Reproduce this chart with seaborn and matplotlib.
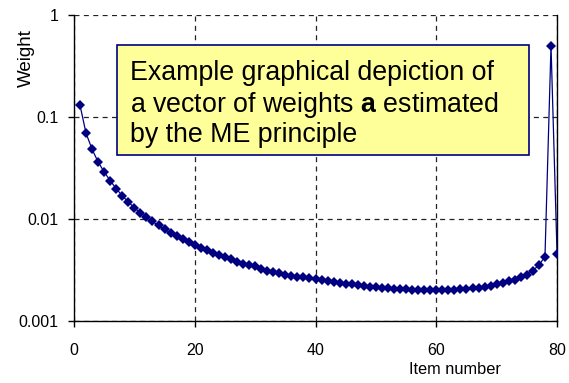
import numpy as np
import pandas as pd
import matplotlib
matplotlib.use("Agg")
import matplotlib.pyplot as plt
import seaborn as sns

# Estimated weight for each item
item_number = list(range(1, 81))
weight = [
    0.130, 0.069, 0.048, 0.036, 0.0288, 0.0236, 0.0197, 0.0168, 0.0146, 0.0128,
    0.0114, 0.0103, 0.0094, 0.0086, 0.0079, 0.0073, 0.0068, 0.0063, 0.0059, 0.0055,
    0.0052, 0.0049, 0.0046, 0.0044, 0.0042, 0.0040, 0.0038, 0.0036, 0.0035, 0.0034,
    0.0032, 0.0031, 0.0030, 0.0029, 0.0028, 0.00275, 0.0027, 0.00265, 0.0026, 0.00255,
    0.0025, 0.00245, 0.0024, 0.00235, 0.0023, 0.00226, 0.00222, 0.00218, 0.00215, 0.00212,
    0.00209, 0.00207, 0.00205, 0.00203, 0.00202, 0.00201, 0.00200, 0.00199, 0.00199, 0.00199,
    0.00199, 0.00200, 0.00201, 0.00203, 0.00205, 0.00208, 0.00211, 0.00215, 0.00220, 0.00226,
    0.00233, 0.00242, 0.00253, 0.00266, 0.00283, 0.00310, 0.00350, 0.00425, 0.50, 0.0045,
]

x_ticks = [0, 20, 40, 60, 80]
y_ticks = [0.001, 0.01, 0.1, 1]
y_tick_labels = ["0.001", "0.01", "0.1", "1"]

df = pd.DataFrame({"item": item_number, "weight": weight})

sns.set_style("white")
plt.rcParams["font.family"] = ["Liberation Sans", "DejaVu Sans"]
plt.rcParams["text.color"] = "black"
plt.rcParams["mathtext.fontset"] = "custom"
plt.rcParams["mathtext.rm"] = "Liberation Sans"
plt.rcParams["mathtext.bf"] = "Liberation Sans:bold"

fig = plt.figure(figsize=(5.69, 3.83), dpi=100)
ax = fig.add_axes([0.130, 0.163, 0.849, 0.798])

sns.lineplot(data=df, x="item", y="weight", ax=ax, color="#000080",
             linewidth=0.9, marker="D", markersize=5.2, markeredgewidth=0,
             markerfacecolor="#000080", zorder=3)

ax.set_yscale("log")
ax.set_xlim(0, 80)
ax.set_ylim(0.001, 1)
ax.set_xticks(x_ticks)
ax.set_yticks(y_ticks)
ax.set_yticklabels(y_tick_labels)
ax.minorticks_off()

ax.grid(True, which="major", color="#222222", linestyle=(0, (4, 3.5)), linewidth=0.9)
for s in ["left", "bottom", "right"]:
    ax.spines[s].set_color("black")
    ax.spines[s].set_linewidth(1.0)
ax.spines["top"].set_visible(False)

ax.tick_params(axis="both", which="major", direction="out", length=4,
               width=1.0, color="black", labelsize=11.5, labelcolor="black",
               left=True, bottom=True)
ax.tick_params(axis="x", pad=12)
ax.tick_params(axis="y", pad=7)

ax.set_xlabel("")
ax.set_ylabel("")
fig.text(0.800, 0.016, "Item number", ha="center", va="bottom", fontsize=11.8)
fig.text(0.047, 0.849, "Weight", ha="center", va="center", rotation=90, fontsize=13.5)

# Annotation box
box_x0, box_y0, box_x1, box_y1 = 117 / 569, 1 - 155 / 383, 529 / 569, 1 - 45 / 383
fig.patches.append(plt.Rectangle((box_x0, box_y0), box_x1 - box_x0, box_y1 - box_y0,
                                 transform=fig.transFigure, facecolor="#FFFF99",
                                 edgecolor="#000080", linewidth=1.2, zorder=5))
box_lines = [
    "Example graphical depiction of",
    "a vector of weights $\\mathbf{a}$ estimated",
    "by the ME principle",
]
for line, base in zip(box_lines, [79.5, 111.5, 142.5]):
    fig.text(130 / 569, 1 - base / 383, line, ha="left", va="baseline",
             fontsize=19.3, zorder=6)

fig.text(-0.003, 1.012, "a.", ha="left", va="center", fontsize=12, fontweight="bold")

fig.savefig("out.png", dpi=100)
